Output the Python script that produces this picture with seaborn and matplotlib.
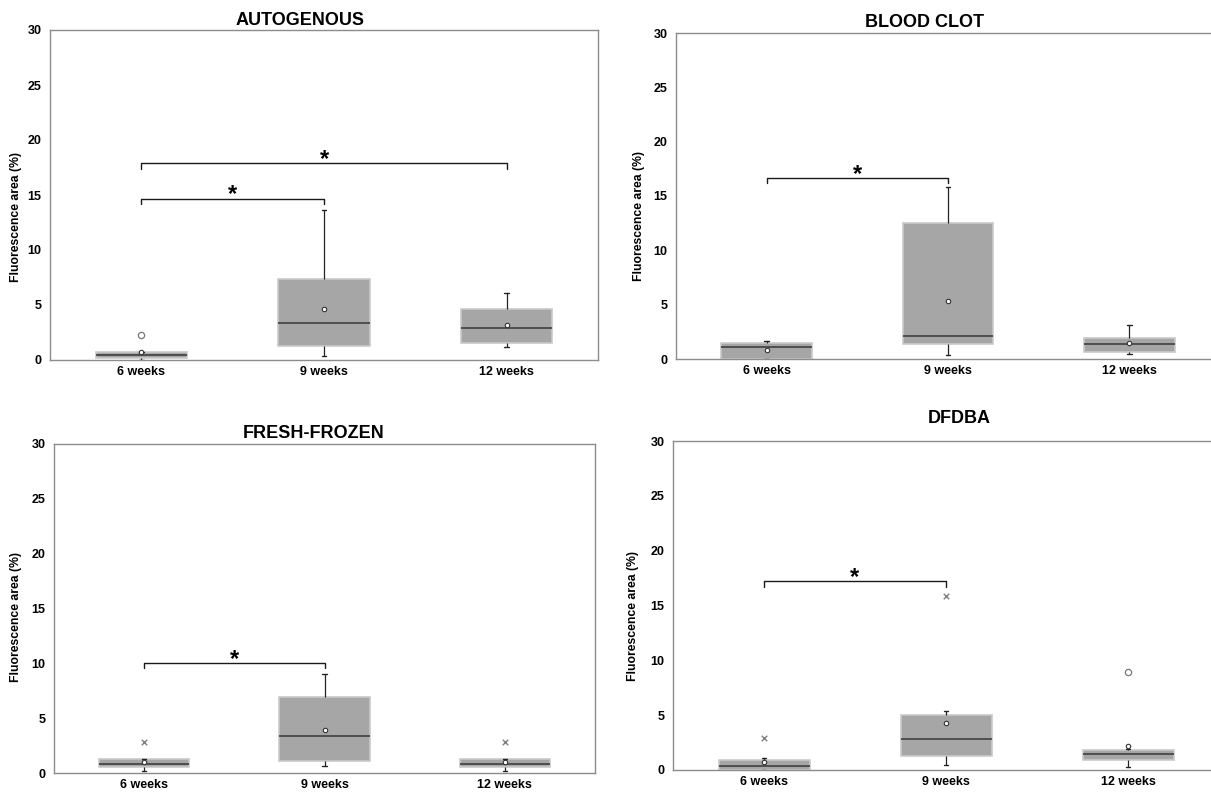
import numpy as np
import pandas as pd
import matplotlib
matplotlib.use("Agg")
import matplotlib.pyplot as plt
import seaborn as sns

weeks = ["6 weeks", "9 weeks", "12 weeks"]
titles = ["AUTOGENOUS", "BLOOD CLOT", "FRESH-FROZEN", "DFDBA"]
yticks = [0, 5, 10, 15, 20, 25, 30]

# Five-number summaries per week: lower whisker, Q1, median, Q3, upper whisker
autogenous_low = [0.03, 0.40, 1.22]
autogenous_q1 = [0.18, 1.28, 1.52]
autogenous_med = [0.45, 3.34, 2.89]
autogenous_q3 = [0.69, 7.40, 4.68]
autogenous_high = [0.69, 13.60, 6.08]
autogenous_mean = [0.69, 4.60, 3.19]

bloodclot_low = [0.00, 0.37, 0.49]
bloodclot_q1 = [0.00, 1.38, 0.64]
bloodclot_med = [1.10, 2.15, 1.38]
bloodclot_q3 = [1.44, 12.55, 1.93]
bloodclot_high = [1.63, 15.80, 3.10]
bloodclot_mean = [0.86, 5.30, 1.44]

freshfrozen_low = [0.20, 0.60, 0.20]
freshfrozen_q1 = [0.58, 1.12, 0.58]
freshfrozen_med = [0.79, 3.37, 0.79]
freshfrozen_q3 = [1.25, 6.96, 1.25]
freshfrozen_high = [1.25, 9.06, 1.25]
freshfrozen_mean = [1.00, 3.95, 1.00]

dfdba_low = [0.00, 0.43, 0.30]
dfdba_q1 = [0.00, 1.25, 0.94]
dfdba_med = [0.36, 2.83, 1.43]
dfdba_q3 = [0.94, 4.98, 1.79]
dfdba_high = [1.06, 5.41, 1.91]
dfdba_mean = [0.70, 4.26, 2.19]

# Outliers (open circles) and extreme values (asterisks)
autogenous_out_week = ["6 weeks"]
autogenous_out_val = [2.28]
autogenous_ext_week = []
autogenous_ext_val = []
bloodclot_out_week = []
bloodclot_out_val = []
bloodclot_ext_week = []
bloodclot_ext_val = []
freshfrozen_out_week = []
freshfrozen_out_val = []
freshfrozen_ext_week = ["6 weeks", "12 weeks"]
freshfrozen_ext_val = [2.80, 2.80]
dfdba_out_week = ["12 weeks"]
dfdba_out_val = [8.94]
dfdba_ext_week = ["6 weeks", "9 weeks"]
dfdba_ext_val = [2.95, 15.87]

# Significance brackets: (from, to, height)
autogenous_sig = [("6 weeks", "9 weeks", 14.65), ("6 weeks", "12 weeks", 17.9)]
bloodclot_sig = [("6 weeks", "9 weeks", 16.66)]
freshfrozen_sig = [("6 weeks", "9 weeks", 10.03)]
dfdba_sig = [("6 weeks", "9 weeks", 17.2)]

panels = [
    (autogenous_low, autogenous_q1, autogenous_med, autogenous_q3, autogenous_high, autogenous_mean,
     autogenous_out_week, autogenous_out_val, autogenous_ext_week, autogenous_ext_val, autogenous_sig),
    (bloodclot_low, bloodclot_q1, bloodclot_med, bloodclot_q3, bloodclot_high, bloodclot_mean,
     bloodclot_out_week, bloodclot_out_val, bloodclot_ext_week, bloodclot_ext_val, bloodclot_sig),
    (freshfrozen_low, freshfrozen_q1, freshfrozen_med, freshfrozen_q3, freshfrozen_high, freshfrozen_mean,
     freshfrozen_out_week, freshfrozen_out_val, freshfrozen_ext_week, freshfrozen_ext_val, freshfrozen_sig),
    (dfdba_low, dfdba_q1, dfdba_med, dfdba_q3, dfdba_high, dfdba_mean,
     dfdba_out_week, dfdba_out_val, dfdba_ext_week, dfdba_ext_val, dfdba_sig),
]

sns.set_style("white")
plt.rcParams["font.family"] = ["Liberation Sans", "DejaVu Sans"]
plt.rcParams["text.color"] = "black"
plt.rcParams["axes.labelcolor"] = "black"
plt.rcParams["xtick.labelcolor"] = "black"
plt.rcParams["ytick.labelcolor"] = "black"

W, H = 1211, 793
fig = plt.figure(figsize=(W / 100, H / 100), dpi=100)

# axes boxes in pixels: left, right, top, bottom
boxes_px = [(50, 598, 30, 360), (676, 1220, 33, 359), (54, 595, 444, 773), (673, 1219, 441, 770)]
title_pos = [(0.456, 1.03), (0.456, 1.031), (0.48, 1.033), (0.524, 1.067)]
ylab_pos = [(-0.051, 0.433), (-0.057, 0.439), (-0.059, 0.474), (-0.062, 0.468)]

spine_col = "#8c8c8c"

for i, (low, q1, med, q3, high, mean, ow, ov, ew, ev, sig) in enumerate(panels):
    l, r, t, b = boxes_px[i]
    ax = fig.add_axes([l / W, 1 - b / H, (r - l) / W, (b - t) / H])
    rows = []
    for k, w in enumerate(weeks):
        for v in (low[k], q1[k], med[k], q3[k], high[k]):
            rows.append({"week": w, "value": v})
    df = pd.DataFrame(rows)
    sns.boxplot(data=df, x="week", y="value", order=weeks, ax=ax, whis=np.inf,
                width=0.5, color="#a6a6a6", saturation=1, linecolor="#222222",
                linewidth=0.9, showfliers=False, capwidths=0.025,
                boxprops=dict(facecolor="#a6a6a6", edgecolor="#c9c9c9", linewidth=1.2),
                medianprops=dict(color="#474747", linewidth=1.3),
                whiskerprops=dict(color="#222222", linewidth=0.9),
                capprops=dict(color="#222222", linewidth=1.0))
    # means
    sns.stripplot(x=weeks, y=mean, order=weeks, jitter=False, ax=ax, color="white",
                  edgecolor="#333333", linewidth=0.8, size=3.2, marker="o", zorder=5)
    if ow:
        sns.stripplot(x=ow, y=ov, order=weeks, jitter=False, ax=ax, color="white",
                      edgecolor="#777777", linewidth=0.9, size=4.5, marker="o", zorder=5)
    if ew:
        sns.stripplot(x=ew, y=ev, order=weeks, jitter=False, ax=ax, color="#808080",
                      linewidth=1.0, size=4, marker="x", zorder=5)
    # significance brackets
    for a, c, hgt in sig:
        xa, xc = weeks.index(a), weeks.index(c)
        ax.plot([xa, xa, xc, xc], [hgt - 0.5, hgt, hgt, hgt - 0.5], color="#1a1a1a", lw=1.0)
        ax.text((xa + xc) / 2, hgt + 0.35, "*", ha="center", va="center",
                fontsize=17, fontweight="bold")
    ax.set_xlim(-0.5, 2.5)
    ax.set_ylim(0, 30)
    ax.set_yticks(yticks)
    ax.set_yticklabels([str(v) for v in yticks], fontsize=9, fontweight="bold")
    ax.set_xticks(range(len(weeks)))
    ax.set_xticklabels(weeks, fontsize=9, fontweight="bold")
    ax.set_xticks([0.5, 1.5], minor=True)
    ax.tick_params(axis="x", which="major", length=0, pad=4)
    ax.tick_params(axis="x", which="minor", length=3, width=0.8, color=spine_col, direction="out")
    ax.tick_params(axis="y", which="major", length=3, width=0.8, color=spine_col, direction="out", pad=3)
    ax.set_xlabel("")
    ax.set_ylabel("Fluorescence area (%)", fontsize=8.8, fontweight="bold")
    ax.yaxis.set_label_coords(*ylab_pos[i])
    for s in ax.spines.values():
        s.set_visible(True)
        s.set_color(spine_col)
        s.set_linewidth(1.0)
    ax.text(title_pos[i][0], title_pos[i][1], titles[i], transform=ax.transAxes,
            ha="center", va="center", fontsize=13, fontweight="bold")

fig.savefig("out.png", dpi=100)
